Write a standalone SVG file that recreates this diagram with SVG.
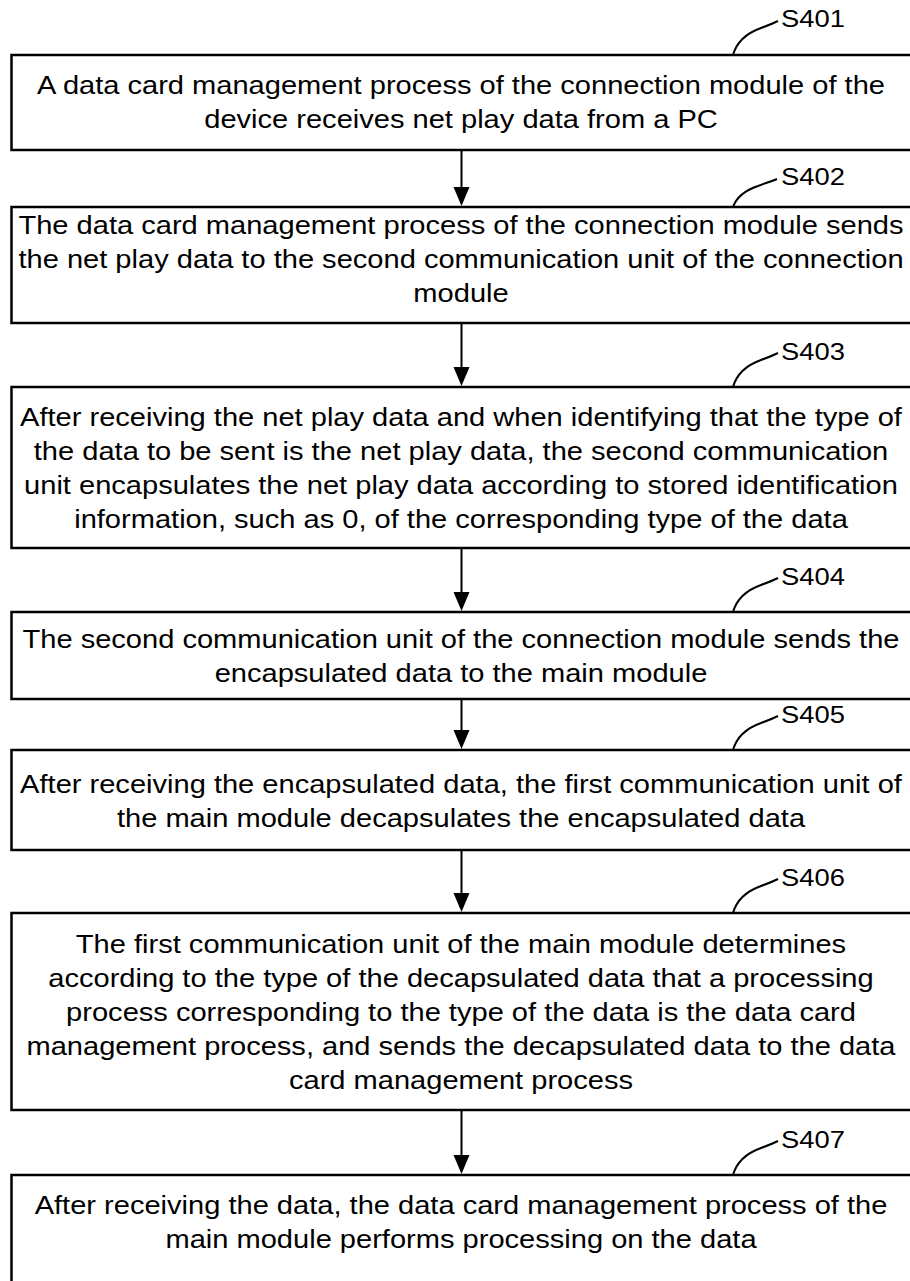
<svg xmlns="http://www.w3.org/2000/svg" width="910" height="1281" viewBox="0 0 910 1281">
  <style>
    .box { fill: #fff; stroke: #000; stroke-width: 2.5; }
    .txt { font-family: "Liberation Sans", Arial, sans-serif; font-size: 25.5px; fill: #000; text-anchor: middle; }
    .lbl { font-family: "Liberation Sans", Arial, sans-serif; font-size: 24px; fill: #000; }
    .lead { fill: none; stroke: #000; stroke-width: 2; }
    .flow { stroke: #000; stroke-width: 2; fill: none; }
  </style>
  <defs>
    <!-- curved leader from a step label down to the box top -->
    <path id="leader" d="M0,0 C4,-14 14,-22 28,-27 C36,-30 41,-32 45,-34"/>
    <path id="head" d="M-8,0 L8,0 L0,19 Z"/>
  </defs>

  <g id="connectors">
    <line class="flow" x1="461.5" y1="151" x2="461.5" y2="188"/>
    <use href="#head" x="461.5" y="187"/>
    <line class="flow" x1="461.5" y1="324" x2="461.5" y2="368"/>
    <use href="#head" x="461.5" y="367"/>
    <line class="flow" x1="461.5" y1="549" x2="461.5" y2="593"/>
    <use href="#head" x="461.5" y="592"/>
    <line class="flow" x1="461.5" y1="700" x2="461.5" y2="731"/>
    <use href="#head" x="461.5" y="730"/>
    <line class="flow" x1="461.5" y1="851" x2="461.5" y2="894"/>
    <use href="#head" x="461.5" y="893"/>
    <line class="flow" x1="461.5" y1="1111" x2="461.5" y2="1156"/>
    <use href="#head" x="461.5" y="1155"/>
  </g>

  <g id="s401">
    <rect class="box" x="11.5" y="55" width="905" height="95"/>
    <use href="#leader" class="lead" x="733" y="55"/>
    <text class="lbl" transform="translate(781 27) scale(1.14 1)">S401</text>
    <g transform="translate(461 0) scale(1.14 1)">
      <text class="txt" x="0" y="94">A data card management process of the connection module of the</text>
      <text class="txt" x="0" y="128">device receives net play data from a PC</text>
    </g>
  </g>

  <g id="s402">
    <rect class="box" x="11.5" y="207" width="905" height="116"/>
    <path class="lead" d="M733,207 C737,196 746,190 758,186 C766,183 772,181 777,179"/>
    <text class="lbl" transform="translate(781 185) scale(1.14 1)">S402</text>
    <g transform="translate(461 0) scale(1.14 1)">
      <text class="txt" x="0" y="234">The data card management process of the connection module sends</text>
      <text class="txt" x="0" y="268">the net play data to the second communication unit of the connection</text>
      <text class="txt" x="0" y="302">module</text>
    </g>
  </g>

  <g id="s403">
    <rect class="box" x="11.5" y="387" width="905" height="161"/>
    <use href="#leader" class="lead" x="733" y="387"/>
    <text class="lbl" transform="translate(781 360) scale(1.14 1)">S403</text>
    <g transform="translate(461 0) scale(1.14 1)">
      <text class="txt" x="0" y="426">After receiving the net play data and when identifying that the type of</text>
      <text class="txt" x="0" y="460">the data to be sent is the net play data, the second communication</text>
      <text class="txt" x="0" y="494">unit encapsulates the net play data according to stored identification</text>
      <text class="txt" x="0" y="528">information, such as 0, of the corresponding type of the data</text>
    </g>
  </g>

  <g id="s404">
    <rect class="box" x="11.5" y="612" width="905" height="87"/>
    <use href="#leader" class="lead" x="733" y="612"/>
    <text class="lbl" transform="translate(781 585) scale(1.14 1)">S404</text>
    <g transform="translate(461 0) scale(1.14 1)">
      <text class="txt" x="0" y="648">The second communication unit of the connection module sends the</text>
      <text class="txt" x="0" y="682">encapsulated data to the main module</text>
    </g>
  </g>

  <g id="s405">
    <rect class="box" x="11.5" y="750" width="905" height="100"/>
    <use href="#leader" class="lead" x="733" y="750"/>
    <text class="lbl" transform="translate(781 723) scale(1.14 1)">S405</text>
    <g transform="translate(461 0) scale(1.14 1)">
      <text class="txt" x="0" y="793">After receiving the encapsulated data, the first communication unit of</text>
      <text class="txt" x="0" y="827">the main module decapsulates the encapsulated data</text>
    </g>
  </g>

  <g id="s406">
    <rect class="box" x="11.5" y="913" width="905" height="197"/>
    <use href="#leader" class="lead" x="733" y="913"/>
    <text class="lbl" transform="translate(781 886) scale(1.14 1)">S406</text>
    <g transform="translate(461 0) scale(1.14 1)">
      <text class="txt" x="0" y="953">The first communication unit of the main module determines</text>
      <text class="txt" x="0" y="987">according to the type of the decapsulated data that a processing</text>
      <text class="txt" x="0" y="1021">process corresponding to the type of the data is the data card</text>
      <text class="txt" x="0" y="1055">management process, and sends the decapsulated data to the data</text>
      <text class="txt" x="0" y="1089">card management process</text>
    </g>
  </g>

  <g id="s407">
    <rect class="box" x="11.5" y="1175" width="905" height="140"/>
    <use href="#leader" class="lead" x="733" y="1175"/>
    <text class="lbl" transform="translate(781 1148) scale(1.14 1)">S407</text>
    <g transform="translate(461 0) scale(1.14 1)">
      <text class="txt" x="0" y="1214">After receiving the data, the data card management process of the</text>
      <text class="txt" x="0" y="1248">main module performs processing on the data</text>
    </g>
  </g>
</svg>
